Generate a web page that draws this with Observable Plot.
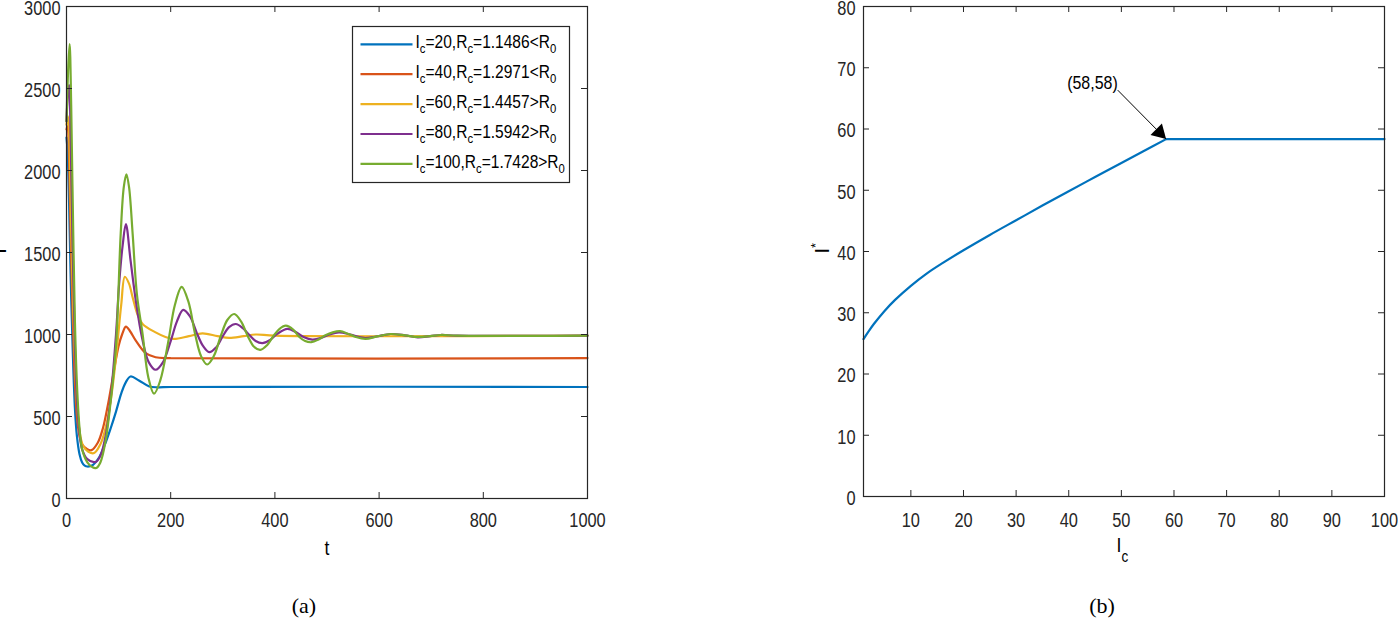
<!DOCTYPE html>
<html><head><meta charset="utf-8">
<script src="https://cdn.jsdelivr.net/npm/d3@7"></script>
<script src="https://cdn.jsdelivr.net/npm/@observablehq/plot@0.6"></script>
<style>
body{margin:0;background:#fff;}
#root{position:relative;width:1398px;height:620px;overflow:hidden;background:#fff;}
#root svg{overflow:visible;}
</style></head><body><div id="root"></div>
<script>
const FONT = '"Liberation Sans", Arial, sans-serif';
const INK = "#262626";
const NARROW = 0.84;

// ---- panel (a) ----
const tTicks = [0, 200, 400, 600, 800, 1000];
const iTicks = [0, 500, 1000, 1500, 2000, 2500, 3000];
const icValues = ["20", "40", "60", "80", "100"];
const rcValues = ["1.1486", "1.2971", "1.4457", "1.5942", "1.7428"];
const relations = ["<", "<", ">", ">", ">"];
const seriesColors = ["#0072BD", "#D95319", "#EDB120", "#7E2F8E", "#77AC30"];

const t20 = [0,2,5,8,12,16,20,25,30,35,40,50,63,75,85,95,105,114,123,139,159,175,200,1000];
const i20 = [2200,2120,1800,1350,900,560,380,270,220,200,195,203,253,340,430,530,640,710,744,720,683,678,680,680];

const t40 = [0,2,5,8,12,16,20,25,30,40,48,60,70,80,90,100,107,114,122,133,152,171,200,1000];
const i40 = [2250,2270,2050,1600,1100,720,500,380,330,300,295,340,430,580,760,930,1003,1048,1020,963,886,861,856,856];

const t60 = [0,3,6,9,13,17,21,26,32,42,53,65,75,85,95,105,112,120,127,136,146,171,190,206,235,261,290,312,340,363,400,1000];
const i60 = [2280,2330,2100,1650,1150,780,540,390,320,285,277,330,430,600,860,1180,1352,1310,1226,1125,1064,1013,985,973,990,1007,990,979,990,1000,993,993];

const t80 = [0,3,5,8,12,16,20,25,30,40,56,65,75,85,95,101,108,114,123,133,145,158,171,185,200,212,224,237,250,262,274,287,300,312,325,338,350,363,376,390,405,424,440,455,472,490,505,523,545,571,595,622,650,674,698,718,750,1000];
const i80 = [2300,2480,2520,2200,1500,950,600,400,300,240,223,260,380,620,1000,1308,1550,1673,1450,1207,980,830,785,830,960,1080,1150,1110,1010,930,892,920,990,1045,1064,1040,1000,960,947,965,1005,1034,1015,985,969,980,1000,1013,1000,979,988,1003,995,983,990,997,993,993];

const t100 = [0,3,6,9,12,16,20,25,30,40,50,57,65,75,85,95,104,110,115,120,127,135,146,157,168,180,195,208,221,234,247,258,270,283,296,309,322,335,348,360,372,385,397,409,421,435,447,458,470,484,497,511,525,540,555,574,598,622,650,674,698,718,750,1000];
const i100 = [2300,2600,2771,2400,1800,1100,700,430,300,220,190,186,220,350,600,930,1612,1900,1977,1900,1612,1250,1004,740,639,720,950,1180,1291,1200,1000,870,817,870,990,1090,1125,1080,990,925,906,935,990,1035,1054,1030,985,960,953,970,995,1013,1020,1005,985,973,990,1003,995,985,990,997,993,993];

const seriesT = [t20, t40, t60, t80, t100];
const seriesI = [i20, i40, i60, i80, i100];

// ---- panel (b) ----
const icTicks = [10,20,30,40,50,60,70,80,90,100];
const starTicks = [0,10,20,30,40,50,60,70,80];
const icAxis = [1,2,3,5,7,10,13,16,20,25,30,35,40,45,50,54,58.5,100];
const iStar  = [25.7,27.0,28.2,30.3,32.1,34.4,36.4,38.1,40.2,42.7,45.1,47.5,49.85,52.15,54.45,56.3,58.35,58.35];
const icBreak = 58.5;
const annotLabel = ["(58,58)"];
const annotLabelPos = [44.5, 67.5];
const arrowFrom = [49.3, 66.35];
const arrowTo = [58.5, 58.35];

const root = document.getElementById("root");

function innerTicks(xt, yt, innerW, innerH, len) {
  return [
    Plot.ruleX(xt, {x: d => d, insetTop: innerH - len, stroke: INK, strokeWidth: 1}),
    Plot.ruleX(xt, {x: d => d, insetBottom: innerH - len, stroke: INK, strokeWidth: 1}),
    Plot.ruleY(yt, {y: d => d, insetRight: innerW - len, stroke: INK, strokeWidth: 1}),
    Plot.ruleY(yt, {y: d => d, insetLeft: innerW - len, stroke: INK, strokeWidth: 1})
  ];
}

// condense the sans texts (reference uses a narrow Helvetica); must run once in the DOM
function condense(svg) {
  svg.querySelectorAll("text").forEach(t => {
    const L = t.getComputedTextLength();
    if (L > 0) {
      t.setAttribute("textLength", (L * NARROW).toFixed(2));
      t.setAttribute("lengthAdjust", "spacingAndGlyphs");
    }
  });
  svg.querySelectorAll("g[aria-label]").forEach(g => {
    if (g.getAttribute("aria-label").indexOf("y-axis tick label") >= 0) {
      g.setAttribute("transform", ((g.getAttribute("transform") || "") + " translate(0,2)").trim());
    }
  });
}

const lines = seriesT.map((ts, k) => Plot.line(ts.map((t, j) => ({t, I: seriesI[k][j]})), {
  x: "t", y: "I", stroke: seriesColors[k], strokeWidth: 2.2, curve: "catmull-rom"
}));

const left = Plot.plot({
  width: 640, height: 560,
  marginLeft: 66, marginRight: 53, marginTop: 6, marginBottom: 62,
  style: {fontFamily: FONT, fontSize: "19.5px", color: INK, background: "transparent", overflow: "visible"},
  x: {domain: [0, 1000], ticks: tTicks, tickSize: 0, tickPadding: 15, tickFormat: d => String(d), label: null},
  y: {domain: [0, 3000], ticks: iTicks, tickSize: 0, tickPadding: 6, tickFormat: d => String(d), label: null},
  marks: [
    ...lines,
    ...innerTicks(tTicks, iTicks, 521, 492, 6),
    Plot.frame({stroke: INK, strokeWidth: 1.2})
  ]
});
left.style.position = "absolute"; left.style.left = "0px"; left.style.top = "0px";
root.appendChild(left);
condense(left);

const curvePts = icAxis.map((x, i) => ({x, y: iStar[i]}));
const right = Plot.plot({
  width: 598, height: 560,
  marginLeft: 63, marginRight: 14, marginTop: 6, marginBottom: 64,
  style: {fontFamily: FONT, fontSize: "19.5px", color: INK, background: "transparent", overflow: "visible"},
  x: {domain: [1, 100], ticks: icTicks, tickSize: 0, tickPadding: 17, tickFormat: d => String(d), label: null},
  y: {domain: [0, 80], ticks: starTicks, tickSize: 0, tickPadding: 8, tickFormat: d => String(d), label: null},
  marks: [
    Plot.line(curvePts.filter(d => d.x <= icBreak), {x: "x", y: "y", stroke: "#0072BD", strokeWidth: 2.2, curve: "catmull-rom"}),
    Plot.line(curvePts.filter(d => d.x >= icBreak), {x: "x", y: "y", stroke: "#0072BD", strokeWidth: 2.2}),
    Plot.link([{x1: arrowFrom[0], y1: arrowFrom[1], x2: arrowTo[0], y2: arrowTo[1]}], {x1: "x1", y1: "y1", x2: "x2", y2: "y2", stroke: "#000", strokeWidth: 1}),
    Plot.dot([{x: arrowTo[0], y: arrowTo[1]}], {x: "x", y: "y", symbol: "triangle", r: 6, fill: "#000", stroke: "none", rotate: 135, dx: -6.6, dy: -6.6}),
    Plot.text(annotLabel, {x: () => annotLabelPos[0], y: () => annotLabelPos[1], text: d => d, fontSize: 19, fill: "#000"}),
    ...innerTicks(icTicks, starTicks, 521, 490, 6),
    Plot.frame({stroke: INK, strokeWidth: 1.2})
  ]
});
right.style.position = "absolute"; right.style.left = "800px"; right.style.top = "0px";
root.appendChild(right);
condense(right);

// ---- overlay: legend, axis titles, panel captions ----
const ov = d3.select(root).append("svg")
  .attr("width", 1398).attr("height", 620)
  .style("position", "absolute").style("left", "0px").style("top", "0px")
  .style("font-family", FONT).attr("fill", "#000");

// legend
const lg = ov.append("g");
lg.append("rect").attr("x", 352.5).attr("y", 26.5).attr("width", 217).attr("height", 156)
  .attr("fill", "#fff").attr("stroke", INK).attr("stroke-width", 1.2);
icValues.forEach((ic, k) => {
  const ry = 44.3 + k * 29.9;
  lg.append("line").attr("x1", 360.5).attr("x2", 412.5).attr("y1", ry).attr("y2", ry)
    .attr("stroke", seriesColors[k]).attr("stroke-width", 2.2);
  const tx = lg.append("text").attr("transform", `translate(415.5,${ry + 4}) scale(${NARROW},1)`).attr("font-size", 18.5);
  const parts = [["I", 0], ["c", 1], ["=" + ic + ",R", 0], ["c", 1], ["=" + rcValues[k] + relations[k] + "R", 0], ["0", 1]];
  let prev = 0;
  parts.forEach(([s, sub]) => {
    const ts = tx.append("tspan").text(s);
    const shift = sub ? 5 : 0;
    if (shift !== prev) ts.attr("dy", shift - prev);
    if (sub) ts.attr("font-size", 13.5);
    prev = shift;
  });
});

// axis titles
ov.append("text").attr("transform", "translate(5.5,251) rotate(-90)").attr("text-anchor", "middle")
  .attr("font-size", 20).text("I");
ov.append("text").attr("transform", `translate(327,555) scale(${NARROW},1)`).attr("text-anchor", "middle").attr("font-size", 21).text("t");

const ys = ov.append("text").attr("transform", "translate(828.5,253.5) rotate(-90)").attr("text-anchor", "start").attr("font-size", 20);
ys.append("tspan").text("I");
ys.append("tspan").attr("dy", -9).attr("font-size", 13).text("*");

const xl = ov.append("text").attr("transform", `translate(1116.5,551.7) scale(${NARROW},1)`).attr("font-size", 21);
xl.append("tspan").text("I");
xl.append("tspan").attr("dy", 10).attr("font-size", 16).text("c");

// captions
ov.append("text").attr("x", 304).attr("y", 613).attr("text-anchor", "middle")
  .attr("font-family", '"Liberation Serif", "Times New Roman", serif').attr("font-size", 22).text("(a)");
ov.append("text").attr("x", 1102).attr("y", 613).attr("text-anchor", "middle")
  .attr("font-family", '"Liberation Serif", "Times New Roman", serif').attr("font-size", 22).text("(b)");
</script></body></html>
